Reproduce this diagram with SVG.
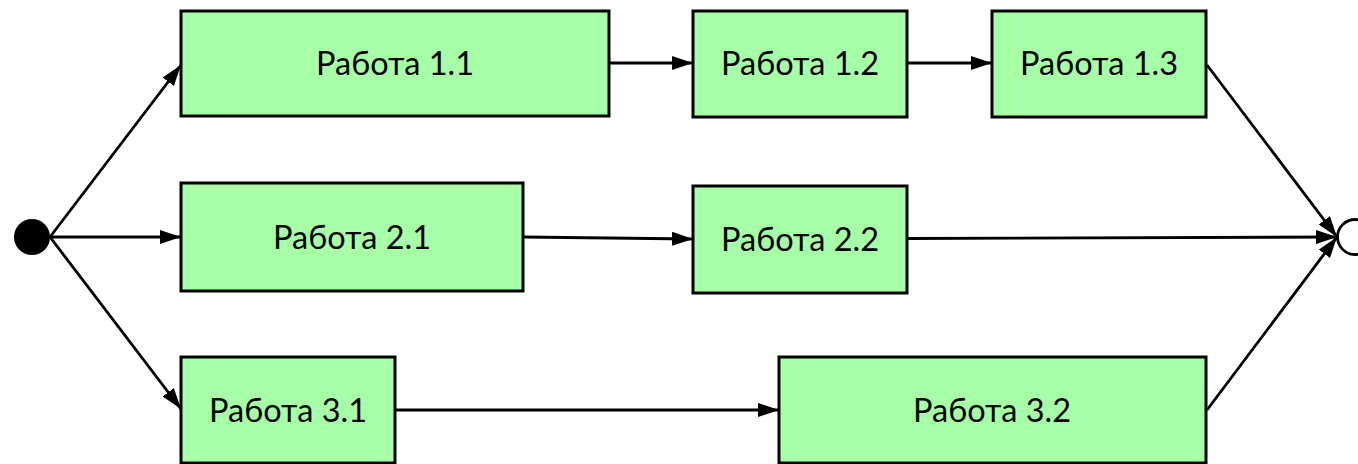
<svg xmlns="http://www.w3.org/2000/svg" width="1358" height="464" viewBox="0 0 1358 464">
<style>
.box{fill:#a6ffa6;stroke:#000;stroke-width:3}
.lbl{font-family:Lato,"Liberation Sans",sans-serif;font-size:32.5px;fill:#000;text-anchor:middle}
.con{stroke:#000;stroke-width:2.8;fill:none;marker-end:url(#ah)}
</style>
<defs>
<marker id="ah" markerUnits="userSpaceOnUse" markerWidth="21" markerHeight="14" refX="21" refY="7" orient="auto">
<path d="M0,0 L21,7 L0,14 z" fill="#000"/>
</marker>
</defs>
<rect width="1358" height="464" fill="#fff"/>
<g id="connectors">
<line class="con" x1="50" y1="237" x2="181" y2="65"/>
<line class="con" x1="50" y1="237" x2="181" y2="237"/>
<line class="con" x1="50" y1="237" x2="181" y2="409"/>
<line class="con" x1="609" y1="63" x2="693" y2="63"/>
<line class="con" x1="907" y1="63" x2="992" y2="63"/>
<line class="con" x1="523" y1="237" x2="693" y2="239"/>
<line class="con" x1="907" y1="238.5" x2="1337" y2="237"/>
<line class="con" x1="1207" y1="65" x2="1337" y2="237"/>
<line class="con" x1="1207" y1="410" x2="1337" y2="237"/>
<line class="con" x1="395" y1="410" x2="779" y2="410"/>
</g>
<g id="start"><circle cx="32" cy="237" r="18" fill="#000"/></g>
<g id="end"><circle cx="1355" cy="237" r="17.5" fill="#fff" stroke="#000" stroke-width="2.8"/></g>
<g id="n11"><rect class="box" x="181" y="11" width="428" height="105"/><text class="lbl" x="395" y="75">Работа 1.1</text></g>
<g id="n12"><rect class="box" x="693" y="11" width="214" height="106"/><text class="lbl" x="800" y="75">Работа 1.2</text></g>
<g id="n13"><rect class="box" x="992" y="11" width="214" height="106"/><text class="lbl" x="1099" y="75">Работа 1.3</text></g>
<g id="n21"><rect class="box" x="181" y="183" width="342" height="108"/><text class="lbl" x="352" y="249">Работа 2.1</text></g>
<g id="n22"><rect class="box" x="693" y="186" width="214" height="107"/><text class="lbl" x="800" y="251">Работа 2.2</text></g>
<g id="n31"><rect class="box" x="181" y="357" width="214" height="106"/><text class="lbl" x="288" y="422">Работа 3.1</text></g>
<g id="n32"><rect class="box" x="779" y="357" width="427" height="106"/><text class="lbl" x="992" y="422">Работа 3.2</text></g>
</svg>
